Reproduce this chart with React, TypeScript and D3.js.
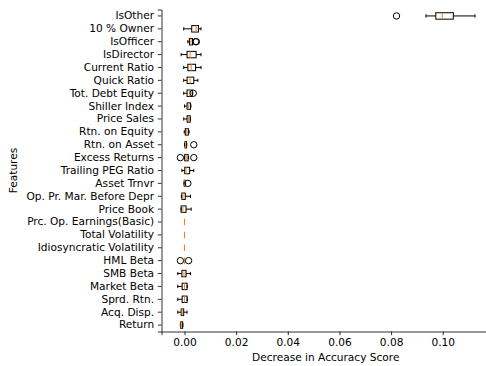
import React, { useEffect, useRef } from 'react'
import * as d3 from 'd3'

// features listed top to bottom
const features = [
  'IsOther', '10 % Owner', 'IsOfficer', 'IsDirector', 'Current Ratio', 'Quick Ratio',
  'Tot. Debt Equity', 'Shiller Index', 'Price Sales', 'Rtn. on Equity', 'Rtn. on Asset',
  'Excess Returns', 'Trailing PEG Ratio', 'Asset Trnvr', 'Op. Pr. Mar. Before Depr',
  'Price Book', 'Prc. Op. Earnings(Basic)', 'Total Volatility', 'Idiosyncratic Volatility',
  'HML Beta', 'SMB Beta', 'Market Beta', 'Sprd. Rtn.', 'Acq. Disp.', 'Return',
]
const whiskerLow = [0.0935, -0.0003, 0.0013, -0.0013, -0.0003, -0.0003, -0.0003, 0.0, -0.0003, -0.0001, 0.0, 0.0, -0.001, -0.0002, -0.0012, -0.0013, 0, 0, 0, 0, -0.0026, -0.0026, -0.0026, -0.0026, -0.0016]
const q1 = [0.0973, 0.0028, 0.0019, 0.001, 0.0013, 0.001, 0.001, 0.001, 0.001, 0.0003, 0.0002, 0.0001, 0.0001, -0.0001, -0.001, -0.0013, 0, 0, 0, 0, -0.001, -0.0009, -0.0009, -0.0013, -0.0015]
const median = [0.0998, 0.0045, 0.0025, 0.0022, 0.0026, 0.0022, 0.002, 0.0015, 0.0016, 0.0009, 0.0005, 0.0007, 0.0006, 0.0, -0.0006, -0.0006, 0, 0, 0, 0, -0.0002, 0.0, 0.0, -0.0009, -0.0013]
const q3 = [0.1041, 0.0054, 0.0031, 0.0045, 0.0043, 0.0036, 0.003, 0.0023, 0.0022, 0.0015, 0.0008, 0.0014, 0.002, 0.0002, 0.0003, 0.0006, 0, 0, 0, 0, 0.0006, 0.001, 0.001, -0.0003, -0.0007]
const whiskerHigh = [0.1125, 0.0064, 0.0033, 0.0064, 0.0064, 0.0052, 0.0032, 0.0025, 0.0023, 0.0018, 0.0009, 0.0016, 0.0036, 0.0003, 0.0023, 0.0026, 0, 0, 0, 0, 0.0023, 0.0011, 0.0011, 0.001, -0.0006]
const outliers = [
  [0.0821], [], [0.0043, 0.0046], [], [], [], [0.0034], [], [], [], [0.0036],
  [-0.0016, 0.0036], [], [0.0013], [], [], [], [], [], [-0.0016, 0.0016], [], [], [], [], [],
]
const xTicks = [0, 0.02, 0.04, 0.06, 0.08, 0.1]

const W = 486
const H = 366
const FONT = 'DejaVu Sans, sans-serif'

export default function App() {
  const svgRef = useRef<SVGSVGElement>(null)

  useEffect(() => {
    const svg = d3.select(svgRef.current)
    svg.selectAll('*').remove()

    const left = 161.5
    const top = 9.5
    const bottom = 331.5

    const x = d3.scaleLinear().domain([-0.0089, 0.1183]).range([left, 490])
    const y = d3.scaleBand().domain(features).range([top, bottom])
    const bw = y.bandwidth()
    const cy = (f: string) => (y(f) as number) + bw / 2
    const boxH = bw * 0.5
    const capH = bw * 0.25

    const rows = features.map((f, i) => ({
      f, lo: whiskerLow[i], q1: q1[i], med: median[i], q3: q3[i], hi: whiskerHigh[i], out: outliers[i],
    }))

    const g = svg.append('g')
    const row = g.selectAll('g.row').data(rows).join('g').attr('class', 'row')

    // whiskers
    row.append('line')
      .attr('x1', d => x(d.lo)).attr('x2', d => x(d.q1))
      .attr('y1', d => cy(d.f)).attr('y2', d => cy(d.f))
      .attr('stroke', '#000').attr('stroke-width', 1)
    row.append('line')
      .attr('x1', d => x(d.q3)).attr('x2', d => x(d.hi))
      .attr('y1', d => cy(d.f)).attr('y2', d => cy(d.f))
      .attr('stroke', '#000').attr('stroke-width', 1)
    // caps
    row.selectAll('line.cap').data(d => [[d.f, d.lo], [d.f, d.hi]] as [string, number][]).join('line')
      .attr('class', 'cap')
      .attr('x1', d => x(d[1])).attr('x2', d => x(d[1]))
      .attr('y1', d => cy(d[0]) - capH / 2).attr('y2', d => cy(d[0]) + capH / 2)
      .attr('stroke', '#000').attr('stroke-width', 1)
    // boxes
    row.append('rect')
      .attr('x', d => x(d.q1)).attr('width', d => x(d.q3) - x(d.q1))
      .attr('y', d => cy(d.f) - boxH / 2).attr('height', boxH)
      .attr('fill', 'none').attr('stroke', '#000').attr('stroke-width', 1)
    // medians
    row.append('line')
      .attr('x1', d => x(d.med)).attr('x2', d => x(d.med))
      .attr('y1', d => cy(d.f) - boxH / 2).attr('y2', d => cy(d.f) + boxH / 2)
      .attr('stroke', '#ff7f0e').attr('stroke-width', 1)
    // fliers
    row.selectAll('circle').data(d => d.out.map(v => [d.f, v] as [string, number])).join('circle')
      .attr('cx', d => x(d[1])).attr('cy', d => cy(d[0])).attr('r', 3.2)
      .attr('fill', 'none').attr('stroke', '#000').attr('stroke-width', 1)

    // axes
    const xAxis = svg.append('g')
      .attr('transform', `translate(0,${bottom})`)
      .call(d3.axisBottom(x).tickValues(xTicks).tickFormat(d3.format('.2f')).tickSizeOuter(0).tickSize(3.7).tickPadding(3.7))
    const yAxis = svg.append('g')
      .attr('transform', `translate(${left},0)`)
      .call(d3.axisLeft(y).tickSizeOuter(0).tickSize(3.7).tickPadding(3.7))
    ;[xAxis, yAxis].forEach(a => {
      a.selectAll('text').attr('font-family', FONT).attr('font-size', 10.6).attr('fill', '#000')
      a.selectAll('line').attr('stroke', '#000').attr('stroke-width', 0.8)
      a.select('.domain').attr('stroke', '#000').attr('stroke-width', 0.8)
    })

    svg.append('text')
      .attr('x', (left + 490) / 2).attr('y', 361)
      .attr('text-anchor', 'middle')
      .attr('font-family', FONT).attr('font-size', 10.6)
      .text('Decrease in Accuracy Score')
    svg.append('text')
      .attr('transform', `translate(17,${(top + bottom) / 2}) rotate(-90)`)
      .attr('text-anchor', 'middle')
      .attr('font-family', FONT).attr('font-size', 10.6)
      .text('Features')
  }, [])

  return (
    <svg ref={svgRef} width={W} height={H}
      style={{ position: 'absolute', left: 0, top: 0, background: '#fff' }} />
  )
}
